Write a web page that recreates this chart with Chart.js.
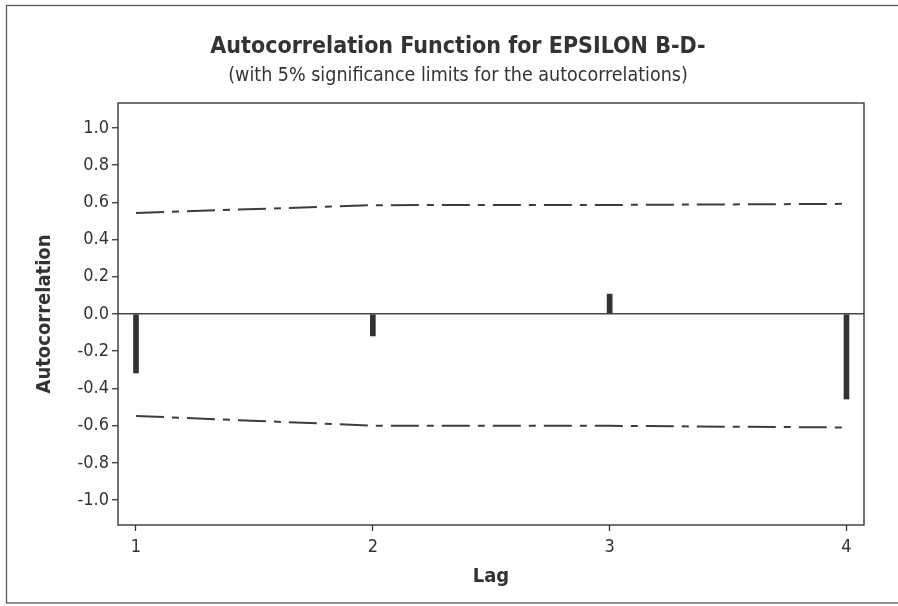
<!DOCTYPE html>
<html>
<head>
<meta charset="utf-8">
<script src="https://cdn.jsdelivr.net/npm/chart.js@4.4.1/dist/chart.umd.min.js"></script>
<style>
html,body{margin:0;padding:0;background:#ffffff;}
#wrap{width:898px;height:606px;position:relative;}
</style>
</head>
<body>
<div id="wrap"><canvas id="c" width="898" height="606"></canvas></div>
<script>
// ---- data ----
const lags = [1, 2, 3, 4];
const acf = [-0.317, -0.118, 0.107, -0.457];
const upperLimit = [0.543, 0.585, 0.586, 0.592];
const lowerLimit = [-0.548, -0.600, -0.601, -0.610];
const yTickValues = [1.0, 0.8, 0.6, 0.4, 0.2, 0.0, -0.2, -0.4, -0.6, -0.8, -1.0];
const xTickValues = [1, 2, 3, 4];
const titleText = 'Autocorrelation Function for EPSILON B-D-';
const subtitleText = '(with 5% significance limits for the autocorrelations)';
const xTitle = 'Lag';
const yTitle = 'Autocorrelation';

const TXT = '#333333';
const LINE = '#3a3a3a';
const FONT_C = "'DejaVu Sans Condensed', 'DejaVu Sans', sans-serif";

const framePlugin = {
  id: 'frames',
  beforeDraw(chart) {
    const ctx = chart.ctx;
    ctx.save();
    ctx.fillStyle = '#ffffff';
    ctx.fillRect(0, 0, chart.width, chart.height);
    ctx.strokeStyle = '#555555';
    ctx.lineWidth = 1.3;
    ctx.strokeRect(6.5, 5.5, 1000, 597.5);
    ctx.restore();
  },
  afterDatasetsDraw(chart) {
    const a = chart.chartArea;
    const ctx = chart.ctx;
    ctx.save();
    ctx.strokeStyle = '#383838';
    ctx.lineWidth = 1.4;
    ctx.strokeRect(a.left, a.top, a.right - a.left, a.bottom - a.top);
    ctx.restore();
  }
};

new Chart(document.getElementById('c'), {
  data: {
    datasets: [
      {
        type: 'bar',
        data: lags.map((l, i) => ({x: l, y: acf[i]})),
        backgroundColor: '#333333',
        borderWidth: 0,
        barThickness: 5,
        order: 1
      },
      {
        type: 'line',
        data: lags.map((l, i) => ({x: l, y: upperLimit[i]})),
        borderColor: '#3c3c3c',
        borderWidth: 2,
        borderDash: [28, 8, 7, 8],
        pointRadius: 0,
        fill: false,
        tension: 0,
        order: 2
      },
      {
        type: 'line',
        data: lags.map((l, i) => ({x: l, y: lowerLimit[i]})),
        borderColor: '#3c3c3c',
        borderWidth: 2,
        borderDash: [28, 8, 7, 8],
        pointRadius: 0,
        fill: false,
        tension: 0,
        order: 2
      }
    ]
  },
  options: {
    responsive: false,
    animation: false,
    devicePixelRatio: 1,
    layout: { padding: { left: 52, right: 34, top: 0, bottom: 0 } },
    plugins: {
      legend: { display: false },
      tooltip: { enabled: false },
      title: {
        display: true,
        text: titleText,
        color: TXT,
        font: { family: FONT_C, size: 23, weight: 'bold' },
        padding: { top: 33, bottom: 0 }
      },
      subtitle: {
        display: true,
        text: subtitleText,
        color: TXT,
        font: { family: FONT_C, size: 19.5, weight: 'normal' },
        padding: { top: 4, bottom: 15 }
      }
    },
    scales: {
      x: {
        type: 'linear',
        position: 'bottom',
        min: 0.924,
        max: 4.074,
        offset: false,
        afterBuildTicks: s => { s.ticks = xTickValues.map(v => ({value: v})); },
        afterFit: s => { s.height = 81; },
        grid: {
          offset: false,
          drawOnChartArea: false,
          drawTicks: true,
          tickLength: 6,
          tickColor: LINE,
          tickWidth: 1.3
        },
        border: { display: false },
        ticks: {
          color: TXT,
          font: { family: FONT_C, size: 18 },
          padding: 6,
          maxRotation: 0,
          callback: v => String(v)
        },
        title: {
          display: true,
          text: xTitle,
          color: TXT,
          font: { family: FONT_C, size: 20, weight: 'bold' },
          padding: { top: 0, bottom: 17 }
        }
      },
      y: {
        type: 'linear',
        position: 'left',
        min: -1.134,
        max: 1.134,
        afterBuildTicks: s => { s.ticks = yTickValues.map(v => ({value: v})); },
        afterFit: s => { s.width = 66; },
        grid: {
          drawOnChartArea: true,
          drawTicks: true,
          tickLength: 6,
          color: c => (c.tick && Math.abs(c.tick.value) < 1e-9) ? '#3d4c49' : 'rgba(0,0,0,0)',
          lineWidth: 1.5,
          tickColor: LINE,
          tickWidth: 1.3
        },
        border: { display: false },
        ticks: {
          color: TXT,
          font: { family: FONT_C, size: 18 },
          padding: 3,
          callback: v => v.toFixed(1)
        },
        title: {
          display: true,
          text: yTitle,
          color: TXT,
          font: { family: FONT_C, size: 20, weight: 'bold' },
          padding: { top: -19, bottom: 0 }
        }
      }
    }
  },
  plugins: [framePlugin]
});
</script>
</body>
</html>
